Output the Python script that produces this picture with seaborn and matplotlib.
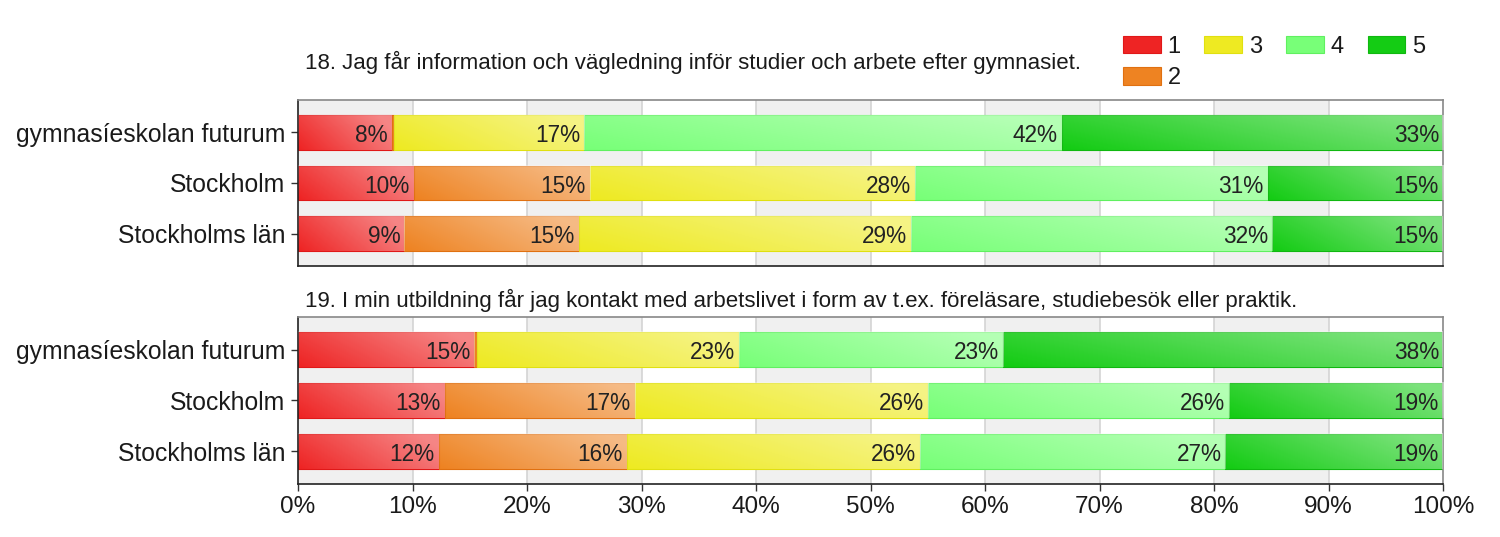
import numpy as np
import pandas as pd
import matplotlib
matplotlib.use("Agg")
import matplotlib.pyplot as plt
import seaborn as sns

# data (percent per answer 1..5)
places = ["gymnasíeskolan futurum", "Stockholm", "Stockholms län"]
levels = ["1", "2", "3", "4", "5"]

q18_futurum = [8.2, 0.2, 16.6, 41.7, 33.3]
q18_stockholm = [10.1, 15.4, 28.4, 30.8, 15.3]
q18_lan = [9.3, 15.2, 29.0, 31.6, 14.9]

q19_futurum = [15.4, 0.2, 22.9, 23.1, 38.4]
q19_stockholm = [12.8, 16.6, 25.6, 26.3, 18.7]
q19_lan = [12.3, 16.4, 25.6, 26.7, 19.0]

titles = [
    "18. Jag får information och vägledning inför studier och arbete efter gymnasiet.",
    "19. I min utbildning får jag kontakt med arbetslivet i form av t.ex. föreläsare, studiebesök eller praktik.",
]
xticks = [0, 10, 20, 30, 40, 50, 60, 70, 80, 90, 100]

colors = ["#EE2424", "#EE8322", "#EEEA22", "#78FF78", "#14CC14"]
edges = ["#E01818", "#E07010", "#E0E010", "#60F060", "#10B810"]

sns.set_style("white")
plt.rcParams['font.family'] = ['Liberation Sans', 'DejaVu Sans']
plt.rcParams['text.color'] = '#1a1a1a'
plt.rcParams['xtick.color'] = '#1a1a1a'
plt.rcParams['ytick.color'] = '#1a1a1a'

fig = plt.figure(figsize=(15, 5.37), dpi=100)
ax1 = fig.add_axes([0.19867, 0.50466, 0.76333, 0.30912])
ax2 = fig.add_axes([0.19867, 0.09870, 0.76333, 0.3110])

questions = [
    (ax1, [q18_futurum, q18_stockholm, q18_lan]),
    (ax2, [q19_futurum, q19_stockholm, q19_lan]),
]

bar_h = 0.69

# glossy gradient: lighter towards the right and the top
grad = np.linspace(0, 1, 64)[None, :] * 0.8 + np.linspace(0.3, 0, 16)[:, None]
overlay = np.zeros((16, 64, 4))
overlay[..., :3] = 1.0
overlay[..., 3] = np.clip(grad, 0, 1) * 0.45

for ax, rows in questions:
    vals = np.array(rows)
    df = pd.DataFrame(vals, columns=levels)
    df["place"] = places
    cum = np.zeros(len(places))
    # alternating background bands
    for i, x0 in enumerate(xticks[:-1]):
        if i % 2 == 0:
            ax.axvspan(x0, x0 + 10, color="#F0F0F0", zorder=0, lw=0)
    for x in xticks[1:-1]:
        ax.axvline(x, color="#D4D4D4", lw=1.2, zorder=0.5)

    for j, lev in enumerate(levels):
        sns.barplot(data=df, x=lev, y="place", order=places, orient="h",
                    color=colors[j], saturation=1, width=bar_h, left=cum, ax=ax,
                    edgecolor=edges[j], linewidth=0.8, label=lev, zorder=2)
        ends = cum + df[lev].values
        for k, v in enumerate(df[lev].values):
            if v >= 3:
                ax.text(ends[k] - 0.35, k + 0.06, f"{v:.0f}%", ha="right", va="center",
                        fontsize=16.3, color="#222222", zorder=4)
        cum = ends

    for cont in ax.containers:
        for p in cont:
            x0, y0 = p.get_x(), p.get_y()
            w, h = p.get_width(), p.get_height()
            if w > 0.5:
                ax.imshow(overlay, extent=[x0, x0 + w, y0 + h, y0], aspect="auto",
                          zorder=3, interpolation="bilinear")

    ax.set_xlim(0, 100)
    ax.set_ylim(2.64, -0.64)
    ax.set_xlabel("")
    ax.set_ylabel("")
    ax.set_xticks(xticks)
    ax.tick_params(axis="y", labelsize=17.8, length=5, width=1, color="#333333", pad=4, left=True)
    ax.tick_params(axis="x", labelsize=17.5, length=5, width=1, color="#333333", bottom=True)
    for side in ["top", "right"]:
        ax.spines[side].set_color("#888888")
    for side in ["left", "bottom"]:
        ax.spines[side].set_color("#222222")
    for s in ax.spines.values():
        s.set_linewidth(1.2)
        s.set_visible(True)
    if ax.get_legend() is not None:
        ax.get_legend().remove()

ax1.set_xticklabels([])
ax1.tick_params(axis="x", length=0)
ax2.set_xticklabels([f"{t}%" for t in xticks])

fig.text(305 / 1500, 1 - 62 / 537, titles[0], fontsize=16, va="center", ha="left")
fig.text(305 / 1500, 1 - 300 / 537, titles[1], fontsize=16, va="center", ha="left")

handles, labels = ax1.get_legend_handles_labels()
seen = {}
for h, l in zip(handles, labels):
    seen.setdefault(l, h)
fig.legend([seen[l] for l in levels], levels, loc="upper left",
           bbox_to_anchor=(1111 / 1500, 1 - 24 / 537), ncol=4, frameon=False,
           fontsize=17, handlelength=1.6, handleheight=0.75, handletextpad=0.3,
           columnspacing=1.0, labelspacing=0.4, borderpad=0)

fig.savefig("out.png", dpi=100)
